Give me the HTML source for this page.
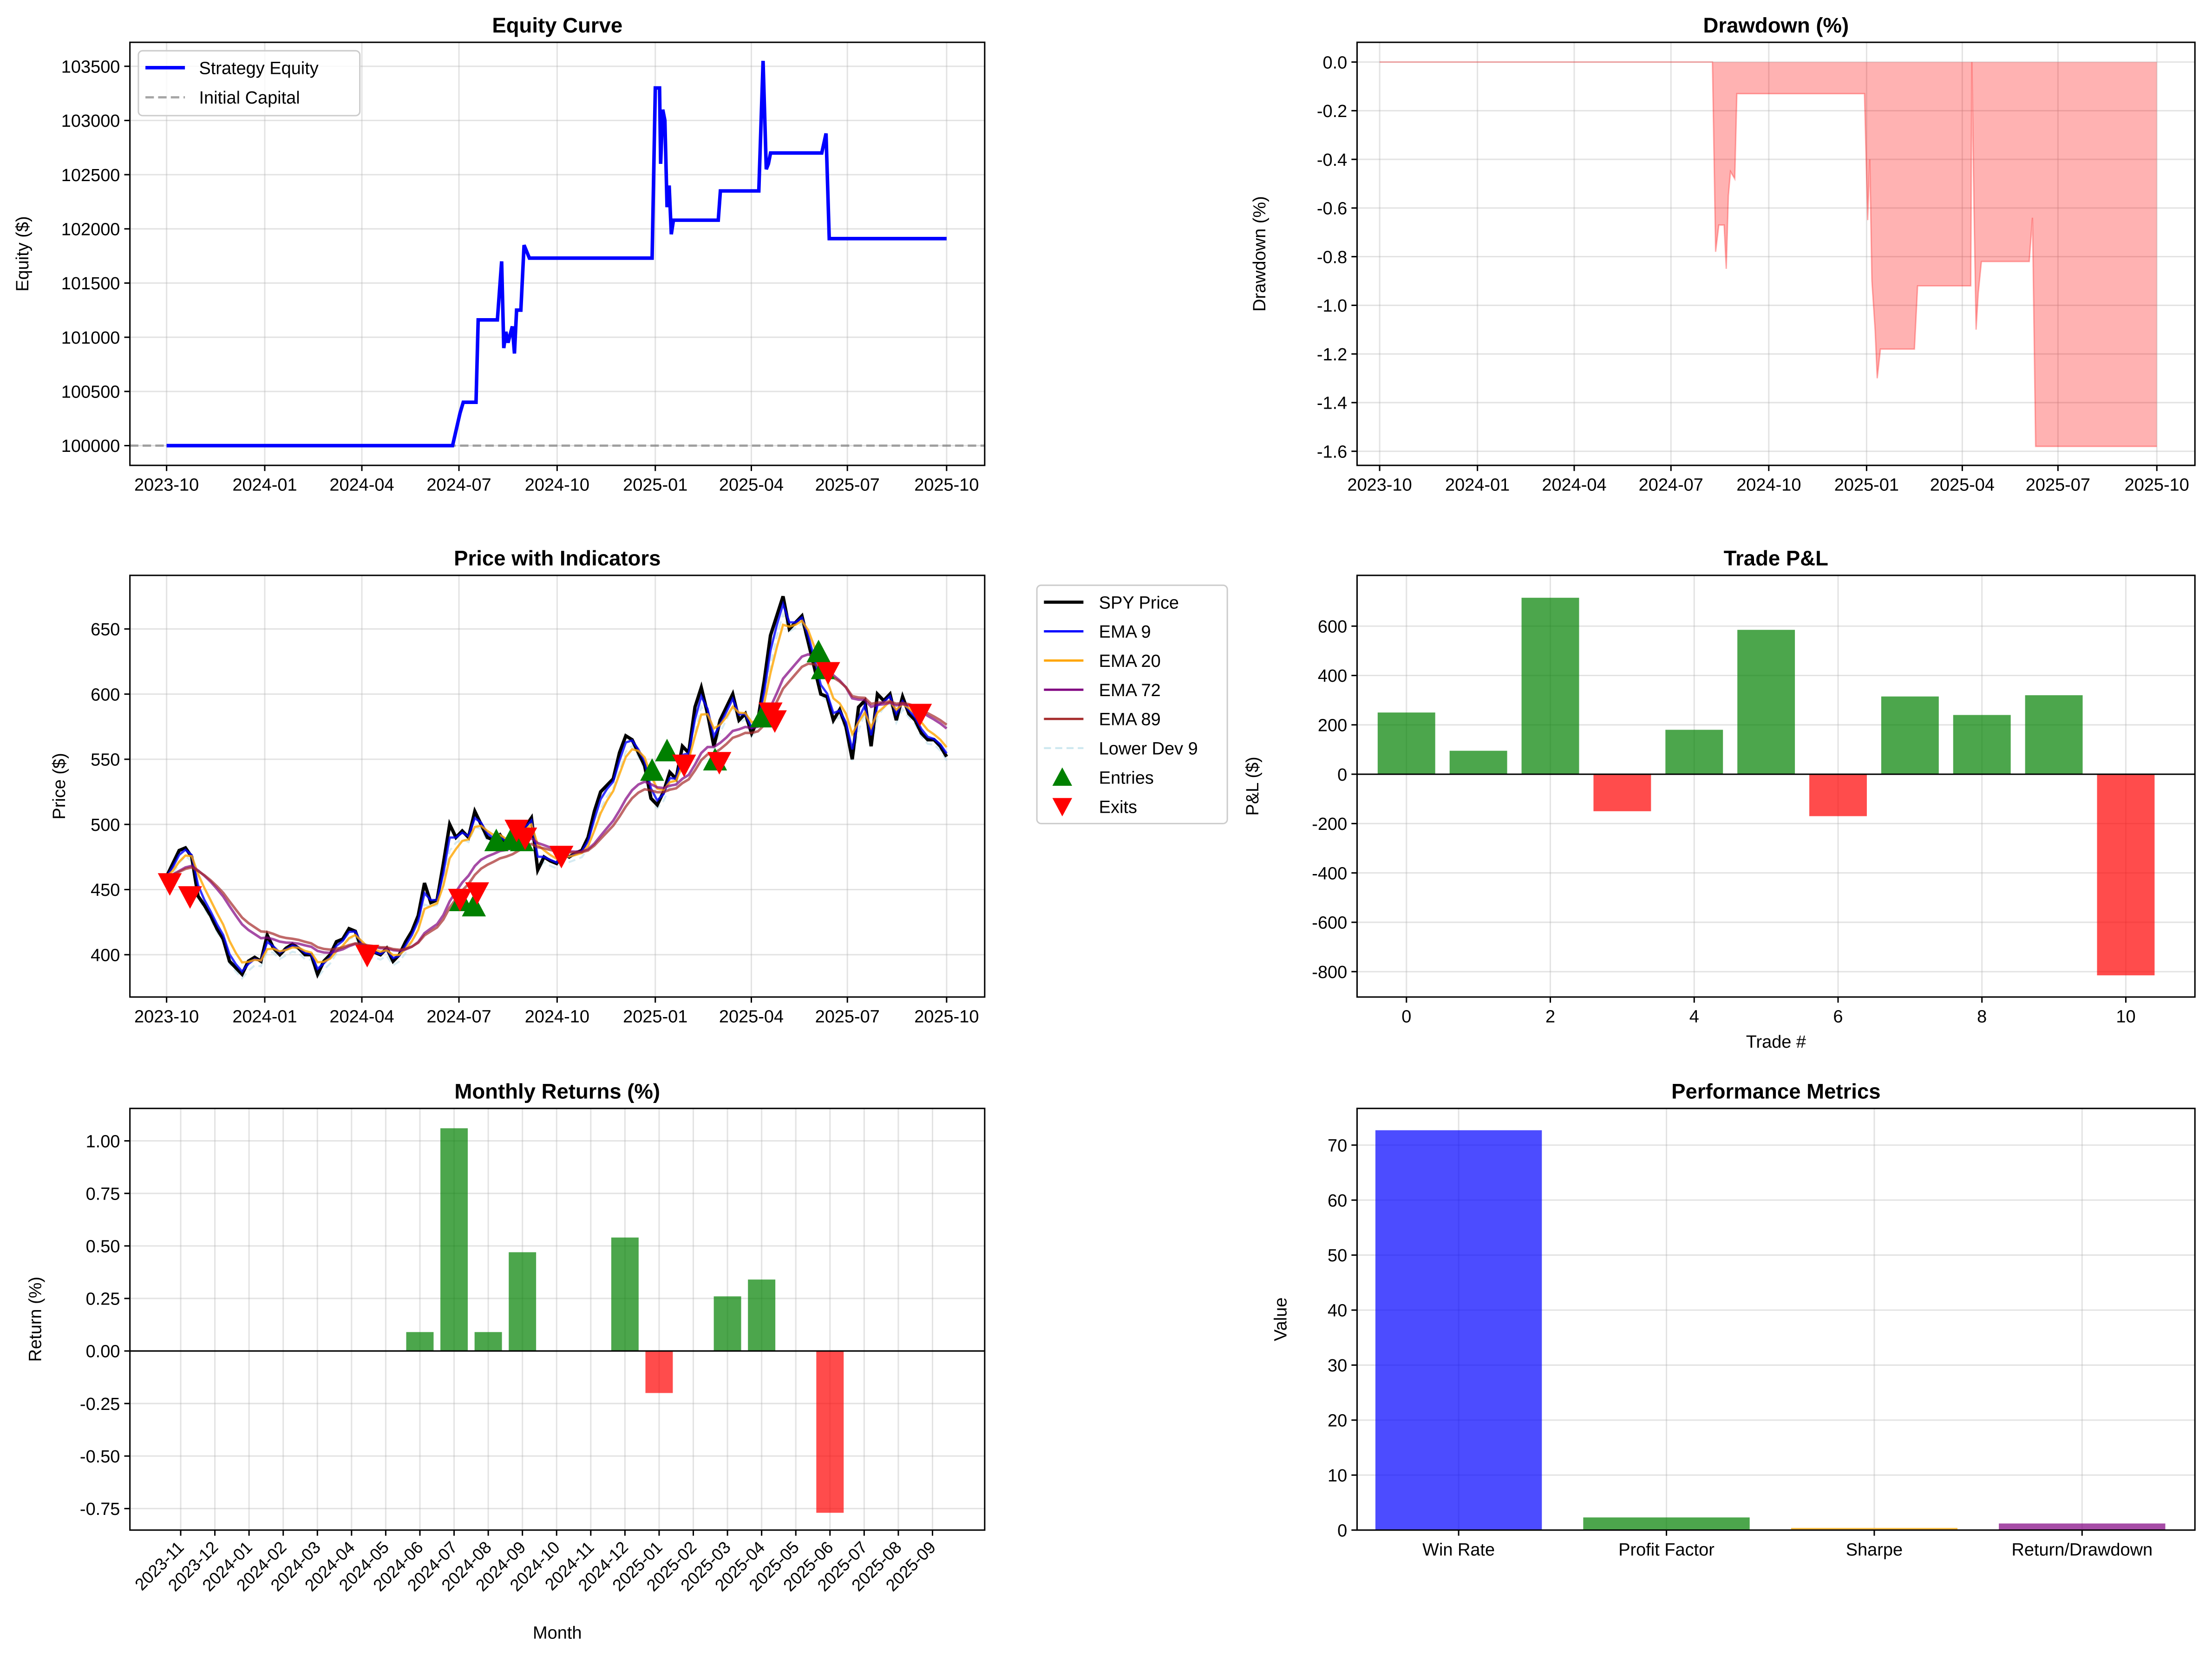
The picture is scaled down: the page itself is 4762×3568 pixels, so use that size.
<!DOCTYPE html>
<html><head><meta charset="utf-8"><style>
html,body{margin:0;padding:0;background:#fff}
svg{display:block;font-family:"Liberation Sans",sans-serif}
</style></head><body>
<svg id="s" width="4762" height="3568" viewBox="0 0 1568 1175" xmlns="http://www.w3.org/2000/svg"></svg>
<script>
// ---------- data ----------
const startDate='2023-10-01';
const eqDays=[0,268,275,278,290,292,310,314,316,318,320,324,326,328,332,335,340,455,458,462,463,465,467,469,471,473,475,517,519,555,557,559,562,564,566,614,618,621,731];
const eqVals=[100000,100000,100300,100400,100400,101160,101160,101700,100900,101050,100950,101100,100850,101250,101250,101850,101730,101730,103300,103300,102600,103100,103000,102200,102400,101950,102080,102080,102350,102350,102950,103550,102550,102600,102700,102700,102880,101910,101910];
const ddDays=[0,313,316,319,324,326,328,330,334,336,456,459,461,463,466,468,471,503,506,556,557,559,561,563,566,611,614,617,731];
const ddVals=[0,0,-0.78,-0.67,-0.67,-0.85,-0.55,-0.45,-0.48,-0.13,-0.13,-0.65,-0.4,-0.9,-1.1,-1.3,-1.18,-1.18,-0.92,-0.92,0,-0.6,-1.1,-0.95,-0.82,-0.82,-0.64,-1.58,-1.58];
const prices=[460,470,480,482,475,445,438,430,420,412,395,390,385,395,398,395,415,405,400,405,408,405,400,400,385,395,400,410,412,420,418,405,400,402,400,405,395,400,410,418,430,455,440,442,470,500,490,495,490,510,500,490,488,492,485,490,500,498,505,465,475,472,470,478,475,478,480,490,510,525,530,535,555,568,565,555,545,520,515,525,540,535,560,555,590,605,585,560,580,590,600,580,585,570,580,610,645,660,675,650,655,660,640,620,600,598,580,588,575,550,590,595,560,600,595,600,580,598,585,580,570,565,565,560,552];
const priceEndDay=731;
const entryDays=[276,288,309,323,333,455,469,514,558,611,615];
const entryPx=[441,437,487,488,487,541,556,549,582,632,619];
const exitDays=[3,22,188,275,291,328,336,370,485,518,566,570,620,706];
const exitPx=[455,445,400,443,448,496,490,476,546,548,586,580,617,585];
const tradePnl=[250,95,715,-150,180,585,-170,315,240,320,-815];
const months=['2023-11','2023-12','2024-01','2024-02','2024-03','2024-04','2024-05','2024-06','2024-07','2024-08','2024-09','2024-10','2024-11','2024-12','2025-01','2025-02','2025-03','2025-04','2025-05','2025-06','2025-07','2025-08','2025-09'];
const monthRet=[0,0,0,0,0,0,0,0.09,1.06,0.09,0.47,0,0,0.54,-0.2,0,0.26,0.34,0,-0.77,0,0,0];
const metricNames=['Win Rate','Profit Factor','Sharpe','Return/Drawdown'];
const metricVals=[72.7,2.3,0.4,1.2];
const metricColors=['#0000ff','#008000','#ffa500','#800080'];
const dateTicks=['2023-10','2024-01','2024-04','2024-07','2024-10','2025-01','2025-04','2025-07','2025-10'];
const dateTickDays=[0,92,183,274,366,458,548,638,731];
const eqTicks=[100000,100500,101000,101500,102000,102500,103000,103500];
const ddTicks=[0,-0.2,-0.4,-0.6,-0.8,-1.0,-1.2,-1.4,-1.6];
const priceTicks=[400,450,500,550,600,650];
const pnlTicks=[600,400,200,0,-200,-400,-600,-800];
const tradeTicks=[0,2,4,6,8,10];
const retTicks=[1.0,0.75,0.5,0.25,0,-0.25,-0.5,-0.75];
const metricTicks=[0,10,20,30,40,50,60,70];

// ---------- helpers ----------
const S=document.getElementById('s');const NS='http://www.w3.org/2000/svg';
function mk(tag,attrs,parent,txt){const e=document.createElementNS(NS,tag);for(const k in attrs)e.setAttribute(k,attrs[k]);if(txt!==undefined)e.textContent=txt;(parent||S).appendChild(e);return e;}
function lin(d0,d1,r0,r1){return v=>r0+(v-d0)/(d1-d0)*(r1-r0);}
function panel(name,x0,y0,x1,y1){const g=mk('g',{});return {g,x0,y0,x1,y1};}
function frame(p){const r=mk('rect',{x:p.x0,y:p.y0,width:p.x1-p.x0,height:p.y1-p.y0,fill:'none',stroke:'#000','stroke-width':1},p.g);}
function grid(p,xs,ys){xs.forEach(x=>mk('line',{x1:x,x2:x,y1:p.y0,y2:p.y1,stroke:'#b0b0b0','stroke-opacity':0.35,'stroke-width':1},p.g));ys.forEach(y=>mk('line',{x1:p.x0,x2:p.x1,y1:y,y2:y,stroke:'#b0b0b0','stroke-opacity':0.35,'stroke-width':1},p.g));}
function xticks(p,xs,labels,rot){xs.forEach((x,i)=>{mk('line',{x1:x,x2:x,y1:p.y1,y2:p.y1+4,stroke:'#000'},p.g);
 let t;if(rot){t=mk('text',{x:x+3,y:p.y1+13,'font-size':12,'text-anchor':'end',transform:`rotate(-45 ${x+3} ${p.y1+13})`},p.g,labels[i]);}
 else t=mk('text',{x:x,y:p.y1+18,'font-size':12.5,'text-anchor':'middle'},p.g,labels[i]);
 });}
function yticks(p,ys,labels){ys.forEach((y,i)=>{mk('line',{x1:p.x0-4,x2:p.x0,y1:y,y2:y,stroke:'#000'},p.g);
 const t=mk('text',{x:p.x0-7,y:y+4.5,'font-size':12.5,'text-anchor':'end'},p.g,labels[i]);});}
function title(p,txt){const t=mk('text',{x:(p.x0+p.x1)/2,y:p.y0-7,'font-size':15,'font-weight':'bold','text-anchor':'middle'},p.g,txt);}
function ylab(p,txt,x){const y=(p.y0+p.y1)/2;const t=mk('text',{x:x,y:y,'font-size':12.5,'text-anchor':'middle',transform:`rotate(-90 ${x} ${y})`},p.g,txt);}
function xlab(p,txt,y){const t=mk('text',{x:(p.x0+p.x1)/2,y:y,'font-size':12.5,'text-anchor':'middle'},p.g,txt);}
function pathOf(xs,ys){return xs.map((x,i)=>(i?'L':'M')+x.toFixed(2)+','+ys[i].toFixed(2)).join('');}
function fmt(v,d){return v.toFixed(d);}

// ---------- Equity ----------
{const p=panel('equity-curve-panel',92,30,698,330);
const X=lin(0,731,118,671),Y=lin(100000,103500,316,47);
grid(p,dateTickDays.map(X),eqTicks.map(Y));
const ic=mk('line',{x1:p.x0,x2:p.x1,y1:Y(100000),y2:Y(100000),stroke:'#808080','stroke-opacity':0.7,'stroke-width':1.6,'stroke-dasharray':'6,3'},p.g);

const l=mk('path',{d:pathOf(eqDays.map(X),eqVals.map(Y)),fill:'none',stroke:'#0000ff','stroke-width':2.5},p.g);

frame(p);xticks(p,dateTickDays.map(X),dateTicks);yticks(p,eqTicks.map(Y),eqTicks.map(v=>String(v)));
title(p,'Equity Curve');ylab(p,'Equity ($)',20);
const lg=mk('g',{},p.g);
mk('rect',{x:98,y:36,width:157,height:46,rx:3,fill:'#fff','fill-opacity':0.8,stroke:'#ccc'},lg);
mk('line',{x1:103,x2:131,y1:48,y2:48,stroke:'#0000ff','stroke-width':2.5},lg);
mk('text',{x:141,y:52.5,'font-size':12.5},lg,'Strategy Equity');
mk('line',{x1:103,x2:131,y1:69,y2:69,stroke:'#808080','stroke-opacity':0.7,'stroke-width':1.6,'stroke-dasharray':'6,3'},lg);
mk('text',{x:141,y:73.5,'font-size':12.5},lg,'Initial Capital');}

// ---------- Drawdown ----------
{const p=panel('drawdown-panel',962,30,1556,330);
const X=lin(0,731,978,1529),Y=lin(0,-1.6,44,320);
grid(p,dateTickDays.map(X),ddTicks.map(Y));
const xs=ddDays.map(X),ys=ddVals.map(Y);
const f=mk('path',{d:pathOf(xs,ys)+`L${xs[xs.length-1]},${Y(0)}L${xs[0]},${Y(0)}Z`,fill:'#ff0000','fill-opacity':0.3,stroke:'none'},p.g);

mk('path',{d:pathOf(xs,ys),fill:'none',stroke:'#ff0000','stroke-opacity':0.3,'stroke-width':1},p.g);
frame(p);xticks(p,dateTickDays.map(X),dateTicks);yticks(p,ddTicks.map(Y),ddTicks.map(v=>fmt(v,1)));
title(p,'Drawdown (%)');ylab(p,'Drawdown (%)',897);}

// ---------- Price ----------
{const p=panel('price-indicators-panel',92,408,698,707);
const X=lin(0,731,118,671),Y=lin(650,400,446,677);
grid(p,dateTickDays.map(X),priceTicks.map(Y));
const n=prices.length;const days=prices.map((_,i)=>i*priceEndDay/(n-1));const step=priceEndDay/(n-1);
function ema(per){const a=1-Math.pow(1-2/(per+1),step);let e=prices[0];return prices.map(v=>(e=e+a*(v-e)));}
const e9=ema(9),e20=ema(20),e72=ema(72),e89=ema(89);
const low=e9.map((v,i)=>v-Math.abs(prices[i]-v)*0.6-4);
const lines=[[low,'#add8e6',1.4,0.5,'lower-dev-9-line','5,3'],[prices,'#000',2.4,1,'spy-price-line',''],[e9,'#0000ff',1.6,0.8,'ema-9-line',''],[e20,'#ffa500',1.6,0.8,'ema-20-line',''],[e72,'#800080',1.8,0.7,'ema-72-line',''],[e89,'#a52a2a',1.8,0.7,'ema-89-line','']];
lines.forEach(L=>{const e=mk('path',{d:pathOf(days.map(X),L[0].map(Y)),fill:'none',stroke:L[1],'stroke-width':L[2],'stroke-opacity':L[3],'stroke-dasharray':L[5]||'none'},p.g);});
entryDays.forEach((d,i)=>{const x=X(d),y=Y(entryPx[i]);const m=mk('polygon',{points:`${x},${y-9} ${x-8.5},${y+7} ${x+8.5},${y+7}`,fill:'#008000'},p.g);});
exitDays.forEach((d,i)=>{const x=X(d),y=Y(exitPx[i]);const m=mk('polygon',{points:`${x},${y+9} ${x-8.5},${y-7} ${x+8.5},${y-7}`,fill:'#ff0000'},p.g);});
frame(p);xticks(p,dateTickDays.map(X),dateTicks);yticks(p,priceTicks.map(Y),priceTicks.map(v=>String(v)));
title(p,'Price with Indicators');ylab(p,'Price ($)',46);
const lg=mk('g',{},p.g);
mk('rect',{x:735,y:415,width:135,height:169,rx:3,fill:'#fff',stroke:'#ccc'},lg);
const items=[['SPY Price','#000',2.2,''],['EMA 9','#0000ff',1.6,''],['EMA 20','#ffa500',1.6,''],['EMA 72','#800080',1.6,''],['EMA 89','#a52a2a',1.6,''],['Lower Dev 9','#add8e6',1.4,'5,3'],['Entries','tri-up'],['Exits','tri-down']];
items.forEach((it,i)=>{const y=427+i*20.7;
 if(it[1]==='tri-up')mk('polygon',{points:`753,${y-7} 746,${y+6} 760,${y+6}`,fill:'#008000'},lg);
 else if(it[1]==='tri-down')mk('polygon',{points:`753,${y+7} 746,${y-6} 760,${y-6}`,fill:'#ff0000'},lg);
 else mk('line',{x1:740,x2:768,y1:y,y2:y,stroke:it[1],'stroke-width':it[2],'stroke-opacity':i==5?0.6:1,'stroke-dasharray':it[3]||'none'},lg);
 mk('text',{x:779,y:y+4.5,'font-size':12.5},lg,it[0]);});}

// ---------- Trade P&L ----------
{const p=panel('trade-pnl-panel',962,408,1556,707);
const X=lin(0,10,997,1507),Y=lin(0,600,549,444);
grid(p,tradeTicks.map(X),pnlTicks.map(Y));
tradePnl.forEach((v,i)=>{const w=40.8;const y0=Y(0),y1=Y(v);const b=mk('rect',{x:X(i)-w/2,y:Math.min(y0,y1),width:w,height:Math.abs(y1-y0),fill:v>=0?'#008000':'#ff0000','fill-opacity':0.7},p.g);});
mk('line',{x1:p.x0,x2:p.x1,y1:Y(0),y2:Y(0),stroke:'#000','stroke-width':1},p.g);
frame(p);xticks(p,tradeTicks.map(X),tradeTicks.map(String));yticks(p,pnlTicks.map(Y),pnlTicks.map(String));
title(p,'Trade P&L');ylab(p,'P&L ($)',892);xlab(p,'Trade #',743);}

// ---------- Monthly ----------
{const p=panel('monthly-returns-panel',92,786,698,1085);
const X=lin(0,22,128,661),Y=lin(0,1,958,809);
const idx=months.map((_,i)=>i);
grid(p,idx.map(X),retTicks.map(Y));
monthRet.forEach((v,i)=>{if(!v)return;const w=19.4;const y0=Y(0),y1=Y(v);const b=mk('rect',{x:X(i)-w/2,y:Math.min(y0,y1),width:w,height:Math.abs(y1-y0),fill:v>=0?'#008000':'#ff0000','fill-opacity':0.7},p.g);});
mk('line',{x1:p.x0,x2:p.x1,y1:Y(0),y2:Y(0),stroke:'#000','stroke-width':1},p.g);
frame(p);xticks(p,idx.map(X),months,true);yticks(p,retTicks.map(Y),retTicks.map(v=>fmt(v,2)));
title(p,'Monthly Returns (%)');ylab(p,'Return (%)',29);xlab(p,'Month',1162);}

// ---------- Metrics ----------
{const p=panel('performance-metrics-panel',962,786,1556,1085);
const X=lin(0,3,1034,1476),Y=lin(0,70,1085,812);
const idx=metricNames.map((_,i)=>i);
grid(p,idx.map(X),metricTicks.map(Y));
metricVals.forEach((v,i)=>{const w=118;const b=mk('rect',{x:X(i)-w/2,y:Y(v),width:w,height:Y(0)-Y(v),fill:metricColors[i],'fill-opacity':0.7},p.g);});
frame(p);xticks(p,idx.map(X),metricNames);yticks(p,metricTicks.map(Y),metricTicks.map(String));
title(p,'Performance Metrics');ylab(p,'Value',912);}
</script>
</body></html>
